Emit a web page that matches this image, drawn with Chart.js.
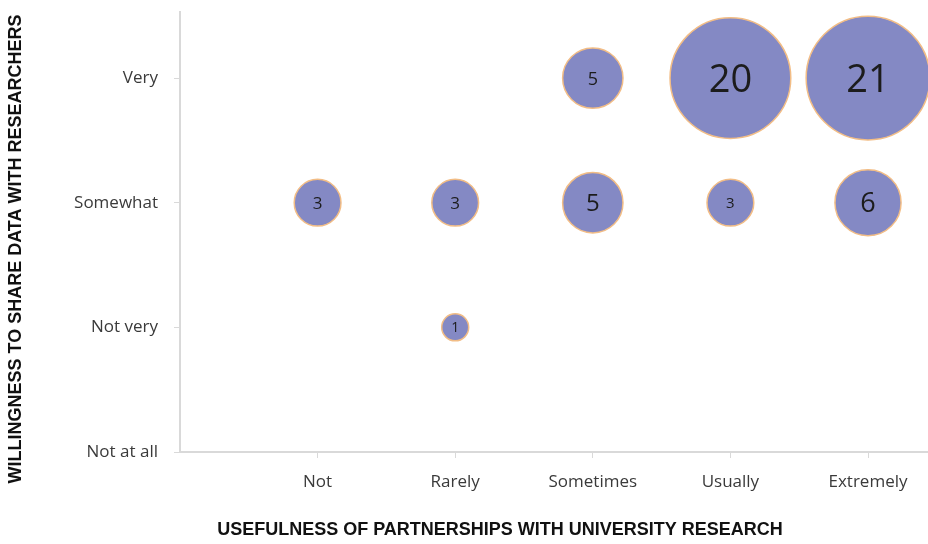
<!DOCTYPE html>
<html>
<head>
<meta charset="utf-8">
<script src="https://cdn.jsdelivr.net/npm/chart.js@4.4.1/dist/chart.umd.min.js"></script>
<style>
  html, body { margin: 0; padding: 0; background: #fff; }
  #chart { display: block; }
</style>
</head>
<body>
<canvas id="chart" width="928" height="544"></canvas>
<script>
// categories
const xLabels = ['Not', 'Rarely', 'Sometimes', 'Usually', 'Extremely'];
const yLabels = ['Not at all', 'Not very', 'Somewhat', 'Very'];

// bubbles: usefulness (x), willingness (y), number of answers
const pointX = ['Sometimes', 'Usually', 'Extremely', 'Not', 'Rarely', 'Sometimes', 'Usually', 'Extremely', 'Rarely'];
const pointY = ['Very', 'Very', 'Very', 'Somewhat', 'Somewhat', 'Somewhat', 'Somewhat', 'Somewhat', 'Not very'];
const counts = [5, 20, 21, 3, 3, 5, 3, 6, 1];

// label font size inside each bubble (style only)
const labelPx = [18, 38, 38, 17, 17, 24, 15, 27, 14];

const xTitle = 'USEFULNESS OF PARTNERSHIPS WITH UNIVERSITY RESEARCH';
const yTitle = 'WILLINGNESS TO SHARE DATA WITH RESEARCHERS';

const points = counts.map((v, i) => ({
    x: xLabels.indexOf(pointX[i]) + 1,
    y: yLabels.indexOf(pointY[i]),
    v: v
}));

// numbers drawn in the middle of each bubble
const bubbleLabels = {
    id: 'bubbleLabels',
    afterDatasetsDraw(chart) {
        const ctx = chart.ctx;
        const meta = chart.getDatasetMeta(0);
        ctx.save();
        ctx.fillStyle = '#1c1c1c';
        ctx.textAlign = 'center';
        ctx.textBaseline = 'alphabetic';
        meta.data.forEach((el, i) => {
            const size = labelPx[i];
            ctx.font = size + 'px "Open Sans", sans-serif';
            ctx.fillText(String(counts[i]), el.x, el.y + size * 0.36);
        });
        ctx.restore();
    }
};

// axis titles
const axisTitles = {
    id: 'axisTitles',
    afterDraw(chart) {
        const ctx = chart.ctx;
        ctx.save();
        ctx.fillStyle = '#111';
        ctx.font = 'bold 18px "Liberation Sans", Arial, sans-serif';
        ctx.textAlign = 'center';
        ctx.textBaseline = 'middle';
        ctx.fillText(xTitle, 500, 530);
        ctx.translate(16, 249);
        ctx.rotate(-Math.PI / 2);
        ctx.fillText(yTitle, 0, 0);
        ctx.restore();
    }
};

new Chart(document.getElementById('chart'), {
    type: 'bubble',
    data: {
        datasets: [{
            data: points,
            backgroundColor: '#8489c4',
            borderColor: '#f2bd86',
            borderWidth: 1.5,
            radius: (c) => c.raw ? 13.5 * Math.sqrt(c.raw.v) : 0,
            clip: false
        }]
    },
    options: {
        responsive: false,
        animation: false,
        layout: { autoPadding: false, padding: { top: 12, right: 0, left: 0, bottom: 0 } },
        plugins: {
            legend: { display: false },
            tooltip: { enabled: false }
        },
        scales: {
            x: {
                type: 'linear',
                min: 0,
                max: 5.436,
                afterBuildTicks: (s) => { s.ticks = xLabels.map((_, i) => ({ value: i + 1 })); },
                afterFit: (s) => { s.height = 92; s.paddingLeft = 0; s.paddingRight = 0; },
                grid: { drawOnChartArea: false, drawTicks: true, tickLength: 6, color: '#d9d9d9' },
                border: { color: '#d9d9d9', width: 2 },
                ticks: {
                    padding: 14,
                    color: '#3a3a3a',
                    font: { family: '"Open Sans", sans-serif', size: 17 },
                    callback: (v) => xLabels[v - 1] || ''
                }
            },
            y: {
                type: 'linear',
                min: 0,
                max: 3.53,
                afterBuildTicks: (s) => { s.ticks = yLabels.map((_, i) => ({ value: i })); },
                afterFit: (s) => { s.width = 180; s.paddingTop = 0; s.paddingBottom = 0; },
                grid: { drawOnChartArea: false, drawTicks: true, tickLength: 6, color: '#d9d9d9' },
                border: { color: '#d9d9d9', width: 2 },
                ticks: {
                    padding: 16,
                    color: '#3a3a3a',
                    font: { family: '"Open Sans", sans-serif', size: 17 },
                    callback: (v) => yLabels[v] || ''
                }
            }
        }
    },
    plugins: [bubbleLabels, axisTitles]
});
</script>
</body>
</html>
